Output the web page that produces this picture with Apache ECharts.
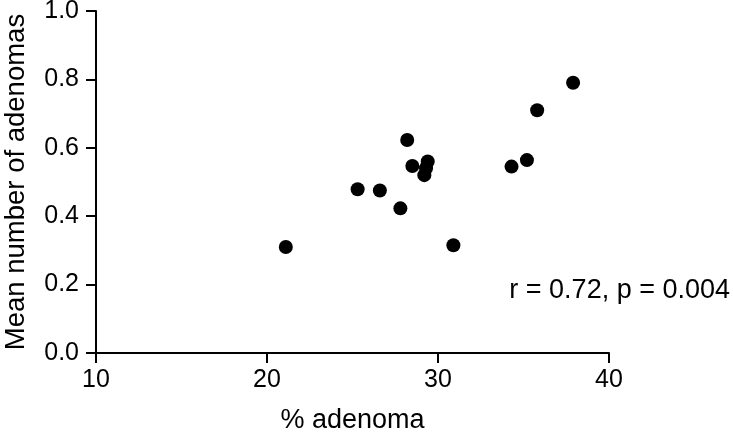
<!DOCTYPE html>
<html>
<head>
<meta charset="utf-8">
<script src="https://cdn.jsdelivr.net/npm/echarts@6/dist/echarts.min.js"></script>
<style>html,body{margin:0;padding:0;background:#fff}#c{width:733px;height:438px}</style>
</head>
<body>
<div id="c"></div>
<script>
const pctAdenoma = [21.1, 25.3, 26.6, 27.8, 28.2, 28.5, 29.2, 29.3, 29.4, 30.9, 34.3, 35.2, 35.8, 37.9];
const meanAdenomas = [0.31, 0.479, 0.475, 0.423, 0.623, 0.547, 0.52, 0.54, 0.56, 0.315, 0.545, 0.564, 0.71, 0.79];
const xTitle = '% adenoma';
const yTitle = 'Mean number of adenomas';
const annotation = 'r = 0.72, p = 0.004';

const FONT = '"Liberation Sans", Arial, Helvetica, sans-serif';
const chart = echarts.init(document.getElementById('c'), null, {renderer: 'canvas'});
chart.setOption({
  animation: false,
  backgroundColor: '#fff',
  grid: {left: 96, right: 124, top: 11, bottom: 85, containLabel: false, outerBoundsMode: 'none'},
  xAxis: {
    type: 'value', min: 10, max: 40, interval: 10,
    name: xTitle, nameLocation: 'middle', nameGap: 54,
    nameTextStyle: {fontFamily: FONT, fontSize: 27, color: '#000'},
    axisLine: {show: true, onZero: false, lineStyle: {color: '#000', width: 2}},
    axisTick: {show: true, length: 10, lineStyle: {color: '#000', width: 2}},
    axisLabel: {fontFamily: FONT, fontSize: 25, color: '#000', margin: 15},
    splitLine: {show: false}
  },
  yAxis: {
    type: 'value', min: 0, max: 1, interval: 0.2,
    name: yTitle, nameLocation: 'middle', nameGap: 66,
    nameTextStyle: {fontFamily: FONT, fontSize: 27.5, color: '#000'},
    axisLine: {show: true, onZero: false, lineStyle: {color: '#000', width: 2}},
    axisTick: {show: true, length: 10, lineStyle: {color: '#000', width: 2}},
    axisLabel: {fontFamily: FONT, fontSize: 25, color: '#000', margin: 17,
      formatter: v => v.toFixed(1)},
    splitLine: {show: false}
  },
  graphic: [{
    type: 'text', right: 3, top: 277,
    style: {text: annotation, font: '27px ' + FONT, fill: '#000'}
  }],
  series: [{
    type: 'scatter',
    symbol: 'circle', symbolSize: 14,
    itemStyle: {color: '#000', opacity: 1},
    data: pctAdenoma.map((x, i) => [x, meanAdenomas[i]])
  }]
});
</script>
</body>
</html>
